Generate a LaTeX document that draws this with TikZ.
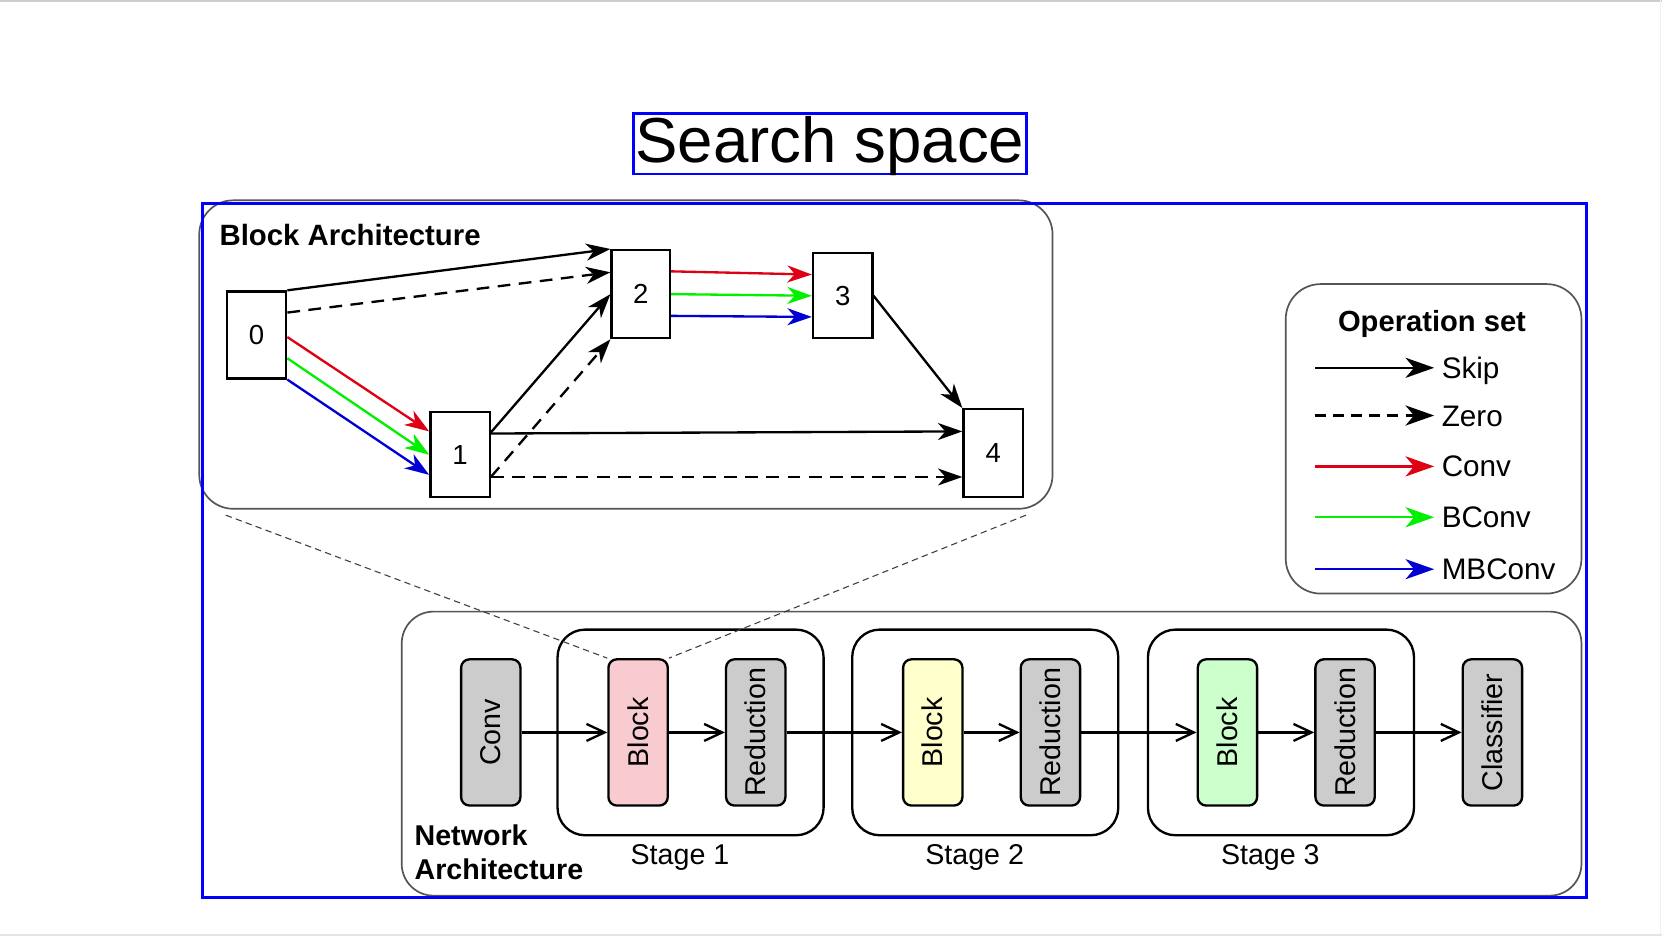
\documentclass[tikz,border=0pt]{standalone}
\usepackage{fontspec}
\setmainfont{Liberation Sans}
\usetikzlibrary{arrows.meta,calc}
\definecolor{frameblue}{RGB}{0,0,255}
\definecolor{cred}{RGB}{222,0,20}
\definecolor{cgreen}{RGB}{0,240,0}
\definecolor{cblue}{RGB}{0,0,210}
\definecolor{boxgray}{RGB}{85,85,85}
\definecolor{dashgray}{RGB}{60,60,60}
\definecolor{fillgray}{RGB}{204,204,204}
\definecolor{fillpink}{RGB}{248,203,209}
\definecolor{fillyellow}{RGB}{255,255,204}
\definecolor{fillgreen}{RGB}{204,255,204}
\definecolor{screenline}{RGB}{205,205,205}
\definecolor{screenlinel}{RGB}{228,228,228}
\begin{document}
\begin{tikzpicture}[x=1pt,y=-1pt,
  graybox/.style={draw=boxgray, line width=1.6pt, inner sep=0pt},
  gnode/.style={draw, line width=2.2pt, minimum width=56pt, inner sep=0pt, font=\fontsize{26}{30}\selectfont},
  netnode/.style={draw, line width=2.2pt, rounded corners=8pt, minimum width=56pt, minimum height=138pt, inner sep=0pt, font=\fontsize{27}{32}\selectfont},
  stagebox/.style={draw, line width=2.2pt, rounded corners=26pt, minimum width=251pt, minimum height=194pt, inner sep=0pt},
  boldlabel/.style={font=\fontsize{27}{32}\selectfont\bfseries, inner sep=0pt},
  plainlabel/.style={font=\fontsize{27}{32}\selectfont, inner sep=0pt},
  legendlabel/.style={font=\fontsize{28}{33}\selectfont, inner sep=0pt, anchor=base west},
  sarrow/.style={line width=2.2pt, -{Stealth[length=23pt,width=16pt,inset=7pt]}},
  larrow/.style={line width=2.2pt, -{Stealth[length=27pt,width=19pt,inset=8pt]}},
  zdash/.style={dash pattern=on 12pt off 8pt},
  ldash/.style={dash pattern=on 10pt off 7pt},
  netarrow/.style={line width=2.2pt, -{Straight Barb[length=17pt,width=16pt]}},
  zoomdash/.style={draw=dashgray, line width=1pt, dash pattern=on 6pt off 4pt}
]
\useasboundingbox (0,0) rectangle (1568,883);
\fill[white] (0,0) rectangle (1568,883);
% screen edges
\draw[screenline, line width=1.5pt] (0,0.75) -- (1568,0.75);
\draw[screenlinel, line width=2pt] (0,882) -- (1568,882);
\draw[screenlinel!50!white, line width=1pt] (1566.5,0) -- (1566.5,882);

% title
\node[draw=frameblue, line width=2.3pt, inner sep=0pt, minimum width=371pt,
      text height=46.5pt, text depth=10.5pt, anchor=north,
      font=\fontsize{60}{72}\selectfont] (title) at (783,106) {Search space};

% ---------- Block architecture ----------
\node[graybox, rounded corners=32pt, minimum width=805pt, minimum height=291pt] (ba) at (590.5,334.5) {};
\node[font=\fontsize{27.7}{33}\selectfont\bfseries, inner sep=0pt, anchor=base west] (batitle) at (207,232) {Block Architecture};

\node[gnode, minimum height=82pt] (n0) at (242,316) {0};
\node[gnode, minimum height=80pt] (n1) at (434,429) {1};
\node[gnode, minimum width=55pt, minimum height=83pt] (n2) at (604.5,277.5) {2};
\node[gnode, minimum height=80pt] (n3) at (795,279) {3};
\node[gnode, minimum height=83pt] (n4) at (937,427.5) {4};

\draw[sarrow] (n0.north east) -- (n2.north west);
\draw[sarrow, zdash] ($(n0.north east)+(0,21)$) -- ($(n2.north west)+(0,22)$);
\draw[sarrow, cred] ($(n0.east)+(0,2)$) -- ($(n1.west)+(0,-22)$);
\draw[sarrow, cgreen] ($(n0.east)+(0,22)$) -- (n1.west);
\draw[sarrow, cblue] (n0.south east) -- ($(n1.west)+(0,19)$);
\draw[sarrow] ($(n1.east)+(0,-21)$) -- (n2.west);
\draw[sarrow, zdash] ($(n1.east)+(0,21)$) -- (n2.south west);
\draw[sarrow, cred] ($(n2.east)+(0,-21.5)$) -- ($(n3.west)+(0,-20)$);
\draw[sarrow, cgreen] (n2.east) -- (n3.west);
\draw[sarrow, cblue] ($(n2.east)+(0,20.5)$) -- ($(n3.west)+(0,20)$);
\draw[sarrow] (n3.east) -- (n4.north west);
\draw[sarrow] ($(n1.east)+(0,-20)$) -- ($(n4.west)+(0,-20.5)$);
\draw[sarrow, zdash] ($(n1.east)+(0,21)$) -- ($(n4.west)+(0,22.5)$);

% ---------- Operation set ----------
\node[graybox, rounded corners=33pt, minimum width=279pt, minimum height=292pt] (ops) at (1352.5,414) {};
\node[font=\fontsize{27.5}{33}\selectfont\bfseries, inner sep=0pt, anchor=base] (optitle) at (1351,313) {Operation set};

\coordinate (k1s) at (1241,347); \coordinate (k1e) at (1353,347);
\coordinate (k2s) at (1241,392); \coordinate (k2e) at (1353,392);
\coordinate (k3s) at (1241,440); \coordinate (k3e) at (1353,440);
\coordinate (k4s) at (1241,488); \coordinate (k4e) at (1353,488);
\coordinate (k5s) at (1241,537); \coordinate (k5e) at (1353,537);
\draw[larrow] (k1s) -- (k1e);
\draw[larrow, ldash] (k2s) -- (k2e);
\draw[larrow, cred] (k3s) -- (k3e);
\draw[larrow, cgreen] (k4s) -- (k4e);
\draw[larrow, cblue] (k5s) -- (k5e);
\node[legendlabel] (lskip) at (1360,357) {Skip};
\node[legendlabel] (lzero) at (1360,402) {Zero};
\node[legendlabel] (lconv) at (1360,450) {Conv};
\node[legendlabel] (lbconv) at (1360,498) {BConv};
\node[legendlabel] (lmbconv) at (1360,547) {MBConv};

% ---------- Network architecture ----------
\node[graybox, rounded corners=30pt, minimum width=1113pt, minimum height=268pt] (na) at (935.5,711) {};
\node[boldlabel, anchor=base west] (natitle1) at (391,797.5) {Network};
\node[boldlabel, anchor=base west] (natitle2) at (391,830) {Architecture};

\node[stagebox] (s1) at (651.5,691) {};
\node[stagebox] (s2) at (929.5,691) {};
\node[stagebox] (s3) at (1208.5,691) {};
\node[plainlabel, anchor=base] (s1l) at ($(s1.south)+(-10,26.5)$) {Stage 1};
\node[plainlabel, anchor=base] (s2l) at ($(s2.south)+(-10,26.5)$) {Stage 2};
\node[plainlabel, anchor=base] (s3l) at ($(s3.south)+(-10,26.5)$) {Stage 3};

\node[netnode, fill=fillgray] (conv) at (463,691) {\rotatebox{90}{Conv}};
\node[netnode, fill=fillpink] (b1) at (602,691) {\rotatebox{90}{Block}};
\node[netnode, fill=fillgray] (r1) at (713,691) {\rotatebox{90}{Reduction}};
\node[netnode, fill=fillyellow] (b2) at (880,691) {\rotatebox{90}{Block}};
\node[netnode, fill=fillgray] (r2) at (991,691) {\rotatebox{90}{Reduction}};
\node[netnode, fill=fillgreen] (b3) at (1158,691) {\rotatebox{90}{Block}};
\node[netnode, fill=fillgray] (r3) at (1269,691) {\rotatebox{90}{Reduction}};
\node[netnode, fill=fillgray] (cls) at (1408,691) {\rotatebox{90}{Classifier}};

\draw[netarrow] (conv.east) -- (b1.west);
\draw[netarrow] (b1.east) -- (r1.west);
\draw[netarrow] (r1.east) -- (b2.west);
\draw[netarrow] (b2.east) -- (r2.west);
\draw[netarrow] (r2.east) -- (b3.west);
\draw[netarrow] (b3.east) -- (r3.west);
\draw[netarrow] (r3.east) -- (cls.west);

% zoom lines
\coordinate (zl) at (213,486);
\coordinate (zr) at (968,486);
\draw[zoomdash] (zl) -- (b1.north west);
\draw[zoomdash] (zr) -- (b1.north east);

% blue frame
\draw[frameblue, line width=2.5pt] (191,192) rectangle (1497,847);
\end{tikzpicture}
\end{document}
